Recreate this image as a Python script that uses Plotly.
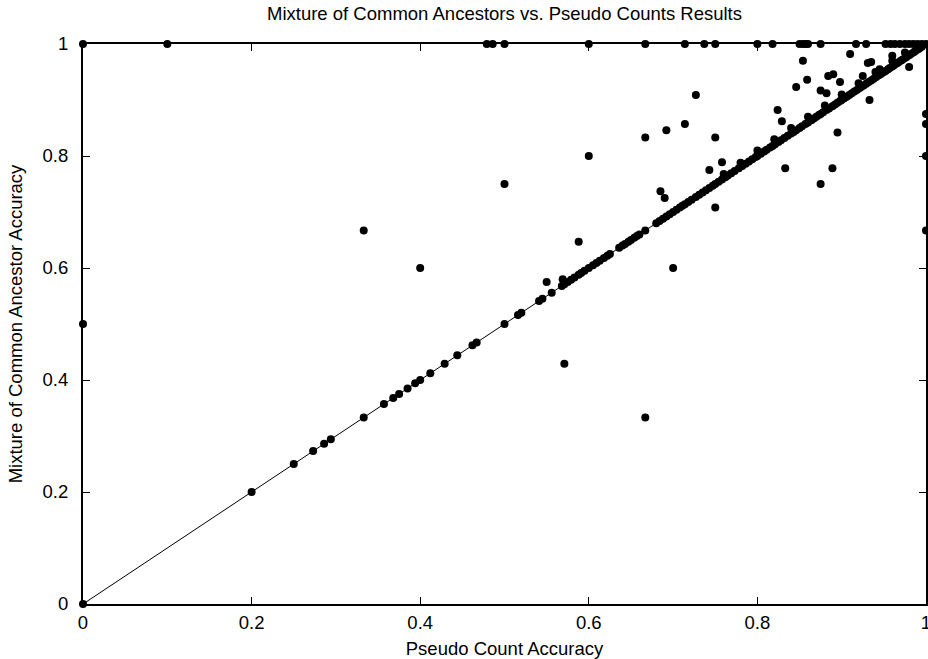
import plotly.graph_objects as go

# ---- data ----
# points lying on the diagonal (Pseudo Count Accuracy == Mixture Accuracy)
diag_vals = [0, 0.2, 0.25, 0.273, 0.286, 0.294, 0.333, 0.357, 0.368, 0.375, 0.385,
             0.394, 0.4, 0.412, 0.429, 0.444, 0.462, 0.467, 0.5, 0.516, 0.52, 0.541,
             0.545, 0.556, 0.568, 0.571, 0.575, 0.579, 0.583, 0.588, 0.591, 0.595,
             0.6, 0.605, 0.609, 0.613, 0.618, 0.622, 0.625, 0.636, 0.64, 0.643,
             0.647, 0.65, 0.654, 0.657, 0.66, 0.667, 0.68, 0.684, 0.688, 0.692,
             0.696, 0.7, 0.704, 0.708, 0.711, 0.714, 0.718, 0.722, 0.727, 0.731,
             0.735, 0.739, 0.743, 0.747, 0.75, 0.754, 0.758, 0.762, 0.765, 0.769,
             0.773, 0.778, 0.782, 0.786, 0.79, 0.794, 0.798, 0.8, 0.804, 0.808,
             0.811, 0.815, 0.818, 0.821, 0.825, 0.828, 0.832, 0.836, 0.84, 0.843,
             0.846, 0.85, 0.853, 0.857, 0.86, 0.864, 0.867, 0.87, 0.873, 0.875,
             0.878, 0.882, 0.885, 0.889, 0.892, 0.895, 0.898, 0.9, 0.903, 0.906,
             0.909, 0.912, 0.915, 0.918, 0.921, 0.923, 0.926, 0.929, 0.932, 0.935,
             0.938, 0.941, 0.944, 0.947, 0.95, 0.952, 0.955, 0.957, 0.96, 0.962,
             0.965, 0.967, 0.97, 0.972, 0.975, 0.977, 0.98, 0.982, 0.985, 0.987,
             0.99, 0.992, 0.995, 1.0]

# points with Mixture accuracy == 1
top_row_x = [0, 0.1, 0.479, 0.486, 0.5, 0.6, 0.667, 0.714, 0.737, 0.75, 0.8,
             0.818, 0.85, 0.854, 0.857, 0.86, 0.875, 0.917, 0.929, 0.952, 0.958,
             0.963, 0.969, 0.975, 0.98, 0.985, 0.99, 0.995]

# other points (pseudo count accuracy, mixture accuracy)
off_x = [0, 0.333, 0.4, 0.5, 0.55, 0.569, 0.571, 0.588, 0.6, 0.667, 0.667,
         0.685, 0.69, 0.692, 0.7, 0.714, 0.727, 0.743, 0.75, 0.75, 0.758,
         0.824, 0.829, 0.833, 0.846, 0.854, 0.859, 0.875, 0.875, 0.882, 0.884,
         0.89, 0.889, 0.895, 0.898, 0.91, 0.925, 0.931, 0.935, 0.933, 0.945,
         0.96, 0.98, 1, 1, 1, 1,
         0.76, 0.78, 0.8, 0.82, 0.84, 0.86, 0.88, 0.9, 0.92, 0.94, 0.96, 0.975]
off_y = [0.5, 0.667, 0.6, 0.75, 0.575, 0.58, 0.429, 0.647, 0.8, 0.333, 0.833,
         0.737, 0.725, 0.846, 0.6, 0.857, 0.909, 0.775, 0.833, 0.708, 0.789,
         0.882, 0.862, 0.778, 0.923, 0.97, 0.936, 0.75, 0.917, 0.912, 0.943,
         0.946, 0.778, 0.842, 0.932, 0.982, 0.943, 0.966, 0.968, 0.9, 0.955,
         0.979, 0.959, 0.875, 0.857, 0.8, 0.667,
         0.768, 0.788, 0.81, 0.83, 0.85, 0.87, 0.89, 0.91, 0.93, 0.95, 0.97, 0.985]

diag_line = [0, 1]
tick_vals = [0, 0.2, 0.4, 0.6, 0.8, 1]
tick_text = ["0", "0.2", "0.4", "0.6", "0.8", "1"]

xs = diag_vals + top_row_x + off_x
ys = diag_vals + [1] * len(top_row_x) + off_y

FONT = "Liberation Sans, Arial, Helvetica, sans-serif"
FS = 18.5

fig = go.Figure()
fig.add_trace(go.Scatter(x=diag_line, y=diag_line, mode="lines",
                         line=dict(color="black", width=1),
                         hoverinfo="skip", showlegend=False))
fig.add_trace(go.Scatter(x=xs, y=ys, mode="markers",
                         marker=dict(color="black", size=8, line=dict(width=0)),
                         cliponaxis=False, showlegend=False))

axis_common = dict(range=[0, 1], tickvals=tick_vals, ticktext=tick_text,
                   ticks="inside", ticklen=7, tickwidth=1, tickcolor="black",
                   showline=True, linecolor="black", linewidth=2, mirror="ticks",
                   showgrid=False, zeroline=False, automargin=False,
                   ticklabeloverflow="allow",
                   tickfont=dict(family=FONT, size=FS, color="black"))

fig.update_layout(
    width=928, height=659,
    margin=dict(l=83, r=2, t=44, b=55),
    paper_bgcolor="white", plot_bgcolor="white",
    font=dict(family=FONT, size=FS, color="black"),
    title=dict(text="Mixture of Common Ancestors vs. Pseudo Counts Results",
               x=0.5, xref="paper", xanchor="center",
               y=1 - 14 / 659, yref="container", yanchor="middle",
               font=dict(family=FONT, size=FS, color="black")),
    xaxis=dict(axis_common,
               title=dict(text="Pseudo Count Accuracy", standoff=10,
                          font=dict(family=FONT, size=FS, color="black")),
               ticklabelstandoff=1),
    yaxis=dict(axis_common,
               title=dict(text="Mixture of Common Ancestor Accuracy", standoff=15,
                          font=dict(family=FONT, size=FS, color="black")),
               ticklabelstandoff=9),
)

fig.write_html("out.html", config={"displayModeBar": False},
               post_script="document.body.style.margin='0';document.body.style.padding='0';")
